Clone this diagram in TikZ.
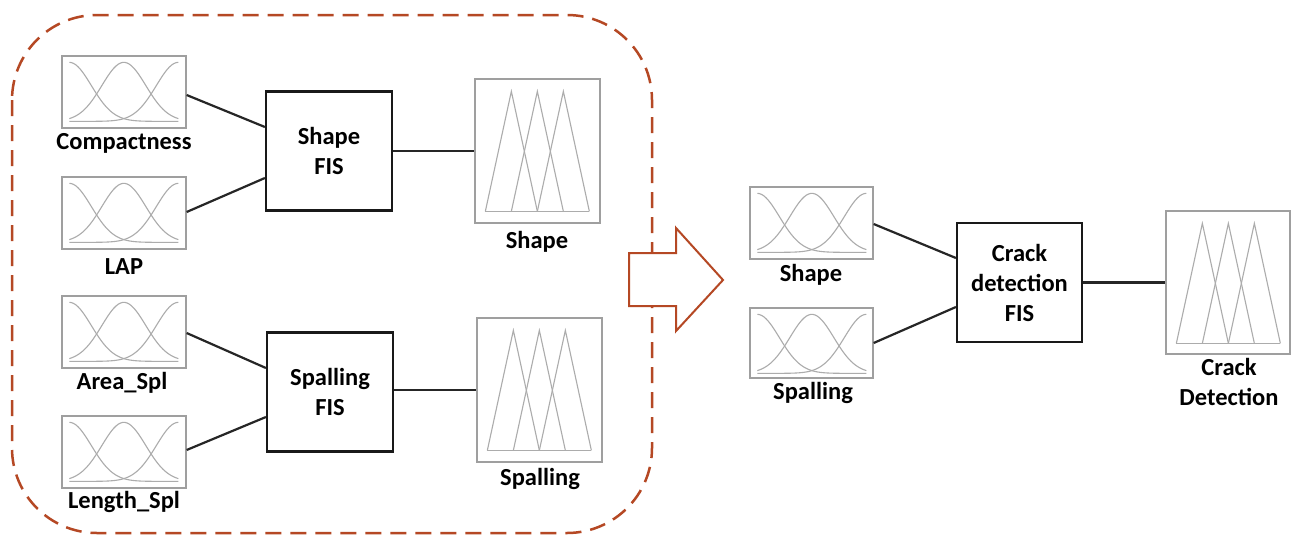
\documentclass[tikz,border=0pt]{standalone}
\usepackage{fontspec}
\setmainfont{Carlito}
\begin{document}
\begin{tikzpicture}[x=1pt,y=-1pt,
  mfin/.style={draw=gray!75, line width=1.3pt, minimum width=124pt, minimum height=72pt, inner sep=0pt},
  mfout/.style={draw=gray!75, line width=1.3pt, minimum width=125pt, minimum height=144pt, inner sep=0pt},
  fis/.style={draw=black!90, line width=2.2pt, minimum width=126pt, minimum height=119pt, align=center, inner sep=0pt, font=\fontsize{24.5}{30}\selectfont\bfseries},
  lbl/.style={font=\fontsize{24.5}{30}\selectfont\bfseries, align=center, inner sep=0pt},
  conn/.style={draw=black!85, line width=2.2pt},
  curve/.style={draw=gray!65, line width=1.1pt},
]
\definecolor{rust}{RGB}{181,72,36}
\useasboundingbox (0,0) rectangle (1293,541);
\fill[white] (0,0) rectangle (1293,541);
\newcommand{\gaussset}[1]{%
  \begin{scope}[shift={(#1.north west)}]
    \foreach \c in {8,62.5,117}{
      \draw[curve] plot[domain=8:117, samples=50, smooth] (\x, {66 - 59*exp(-((\x-\c)^2)/968)});
    }
  \end{scope}}
\newcommand{\triset}[1]{%
  \begin{scope}[shift={(#1.north west)}]
    \draw[curve] (11,133) -- (115,133);
    \draw[curve] (11,133) -- (37,13) -- (63,133);
    \draw[curve] (37,133) -- (63,13) -- (89,133);
    \draw[curve] (63,133) -- (89,13) -- (115,133);
  \end{scope}}
% dashed group
\draw[rust, line width=2.5pt, dash pattern=on 16pt off 9pt, rounded corners=85pt] (12,15) rectangle (652,533);
% left inputs
\node[mfin] (compbox) at (124,92) {};
\node[mfin] (lapbox) at (124,213) {};
\node[mfin] (areabox) at (124,332) {};
\node[mfin] (lenbox) at (124,452) {};
\gaussset{compbox}\gaussset{lapbox}\gaussset{areabox}\gaussset{lenbox}
\node[lbl] (complbl) at (124,143) {Compactness};
\node[lbl] (laplbl) at (124,267) {LAP};
\node[lbl] (arealbl) at (122,383) {Area\_Spl};
\node[lbl] (lenlbl) at (124,502) {Length\_Spl};
% FIS
\node[fis] (shapefis) at (329,151) {Shape\\FIS};
\node[fis] (spallfis) at (330,392) {Spalling\\FIS};
% outputs
\node[mfout] (shapeout) at (537.5,151) {};
\node[mfout] (spallout) at (539.5,390) {};
\triset{shapeout}\triset{spallout}
\node[lbl] (shapeoutlbl) at (537,242) {Shape};
\node[lbl] (spalloutlbl) at (540,479) {Spalling};
% connectors
\draw[conn] (compbox.east |- 0,95) -- (shapefis.west |- 0,127);
\draw[conn] (lapbox.east |- 0,212) -- (shapefis.west |- 0,178);
\draw[conn] (shapefis.east) -- (shapeout.west);
\draw[conn] (areabox.east |- 0,333) -- (spallfis.west |- 0,368);
\draw[conn] (lenbox.east |- 0,450) -- (spallfis.west |- 0,417);
\draw[conn] (spallfis.east |- spallout.west) -- (spallout.west);
% block arrow
\draw[rust, line width=2pt, fill=white] (629,253) -- (676,253) -- (676,228) -- (723,280) -- (676,331) -- (676,306) -- (629,306) -- cycle;
% right part
\node[mfin, minimum width=123pt] (shapein) at (811.5,223) {};
\node[mfin, minimum width=123pt, minimum height=70pt] (spallin) at (811.5,343) {};
\gaussset{shapein}\gaussset{spallin}
\node[lbl] (shapeinlbl) at (811,275) {Shape};
\node[lbl] (spallinlbl) at (813,393) {Spalling};
\node[fis, minimum width=125pt] (crackfis) at (1019.5,282.5) {Crack\\detection\\FIS};
\node[mfout, minimum width=124pt, minimum height=143pt] (crackout) at (1228,282.5) {};
\triset{crackout}
\node[lbl] (crackoutlbl) at (1229,382) {Crack\\Detection};
\draw[conn] (shapein.east |- 0,224) -- (crackfis.west |- 0,258);
\draw[conn] (spallin.east |- 0,343) -- (crackfis.west |- 0,307);
\draw[conn] (crackfis.east) -- (crackout.west);
\end{tikzpicture}
\end{document}
